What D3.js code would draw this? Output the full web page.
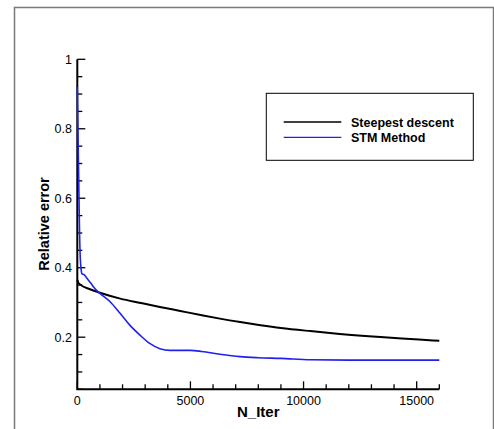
<!DOCTYPE html>
<html>
<head>
<meta charset="utf-8">
<script src="https://cdn.jsdelivr.net/npm/d3@7"></script>
<style>
  body { margin: 0; background: #fff; }
  svg text { font-family: "Liberation Sans", Arial, Helvetica, sans-serif; }
</style>
</head>
<body>
<div id="main"></div>
<script>
// values
var seriesNames = ['Steepest descent', 'STM Method'];
var seriesColors = ['#000000', '#2020f0'];

var steepestIter = [0, 40, 120, 560, 1000, 1900, 2800, 3650, 4550, 5450, 6300, 7200, 8100, 9000, 10300, 11600, 13400, 15100, 16000];
var steepestErr  = [0.365, 0.358, 0.352, 0.338, 0.328, 0.311, 0.2985, 0.287, 0.2755, 0.264, 0.2535, 0.2435, 0.2345, 0.2265, 0.2175, 0.2095, 0.2005, 0.1935, 0.1895];

var stmIter = [0, 40, 75, 100, 130, 170, 200, 300, 400, 600, 860, 1000, 1450, 1900, 2330, 2770, 3200, 3650, 4100, 5000, 5500, 6300, 7200, 8000, 9000, 10300, 12000, 14000, 16000];
var stmErr  = [0.92, 0.75, 0.6, 0.5, 0.43, 0.395, 0.383, 0.38, 0.372, 0.355, 0.334, 0.326, 0.302, 0.268, 0.234, 0.206, 0.182, 0.167, 0.162, 0.162, 0.159, 0.151, 0.144, 0.141, 0.139, 0.135, 0.134, 0.134, 0.134];

var xTicks = [0, 5000, 10000, 15000];
var yTicks = [0.2, 0.4, 0.6, 0.8, 1];

var svgWidth = 494, svgHeight = 429;

var svg = d3.select('#main').append('svg')
	.attr('width', svgWidth)
	.attr('height', svgHeight);

// outer frame
svg.append('rect')
	.attr('x', 14.5).attr('y', 7.5)
	.attr('width', 479).attr('height', 440)
	.attr('fill', 'none')
	.attr('stroke', '#7a7a7a')
	.attr('stroke-width', 1.5);

var x = d3.scaleLinear().domain([0, 16000]).range([77.3, 439.3]);
var y = d3.scaleLinear().domain([0.05, 1]).range([389.3, 59.3]);

// minor ticks
var g = svg.append('g');
g.selectAll('.xminor')
	.data(d3.range(0, 16001, 1000))
	.enter().append('line')
	.attr('x1', function(d){ return x(d); })
	.attr('x2', function(d){ return x(d); })
	.attr('y1', y(0.05))
	.attr('y2', function(d){ return y(0.05) - (d % 5000 == 0 ? 8 : 5); })
	.attr('stroke', '#000').attr('stroke-width', 1.3);

g.selectAll('.yminor')
	.data(d3.range(0.05, 1.001, 0.05))
	.enter().append('line')
	.attr('y1', function(d){ return y(d); })
	.attr('y2', function(d){ return y(d); })
	.attr('x1', x(0))
	.attr('x2', function(d){
		var major = Math.abs(d * 5 - Math.round(d * 5)) < 1e-6;
		return x(0) + (major ? 8 : 5);
	})
	.attr('stroke', '#000').attr('stroke-width', 1.3);

// axis lines
svg.append('path')
	.attr('d', 'M' + x(0) + ',' + y(1) + 'V' + y(0.05) + 'H' + x(16000))
	.attr('fill', 'none')
	.attr('stroke', '#000')
	.attr('stroke-width', 2);

// tick labels
svg.selectAll('.xlab')
	.data(xTicks)
	.enter().append('text')
	.attr('x', function(d){ return x(d); })
	.attr('y', 405)
	.attr('text-anchor', 'middle')
	.style('font-size', '12.5px')
	.text(function(d){ return d; });

svg.selectAll('.ylab')
	.data(yTicks)
	.enter().append('text')
	.attr('x', 72)
	.attr('y', function(d){ return y(d) + 4.5; })
	.attr('text-anchor', 'end')
	.style('font-size', '12.5px')
	.text(function(d){ return d; });

// axis titles
svg.append('text')
	.attr('x', 258.3).attr('y', 417)
	.attr('text-anchor', 'middle')
	.style('font-size', '15px')
	.style('font-weight', 'bold')
	.text('N_Iter');

svg.append('text')
	.attr('transform', 'translate(49,224) rotate(-90)')
	.attr('text-anchor', 'middle')
	.style('font-size', '14.5px')
	.style('font-weight', 'bold')
	.text('Relative error');

// curves
var line = d3.line()
	.x(function(d){ return x(d[0]); })
	.y(function(d){ return y(d[1]); })
	.curve(d3.curveMonotoneX);

var series = [
	d3.zip(steepestIter, steepestErr),
	d3.zip(stmIter, stmErr)
];

svg.selectAll('.curve')
	.data(series)
	.enter().append('path')
	.attr('d', line)
	.attr('fill', 'none')
	.attr('stroke', function(d, i){ return seriesColors[i]; })
	.attr('stroke-width', function(d, i){ return i == 0 ? 2 : 1.6; });

// legend
var leg = svg.append('g');
leg.append('rect')
	.attr('x', 266.3).attr('y', 93.3)
	.attr('width', 207).attr('height', 67)
	.attr('fill', '#fff')
	.attr('stroke', '#000')
	.attr('stroke-width', 1);

seriesNames.forEach(function(name, i){
	var ly = 122 + i * 15.3;
	leg.append('line')
		.attr('x1', 283.7).attr('x2', 341.3)
		.attr('y1', ly).attr('y2', ly)
		.attr('stroke', seriesColors[i])
		.attr('stroke-width', 1.3);
	leg.append('text')
		.attr('x', 351).attr('y', ly + 4.5)
		.style('font-size', '12.5px')
		.style('font-weight', 'bold')
		.text(name);
});
</script>
</body>
</html>
